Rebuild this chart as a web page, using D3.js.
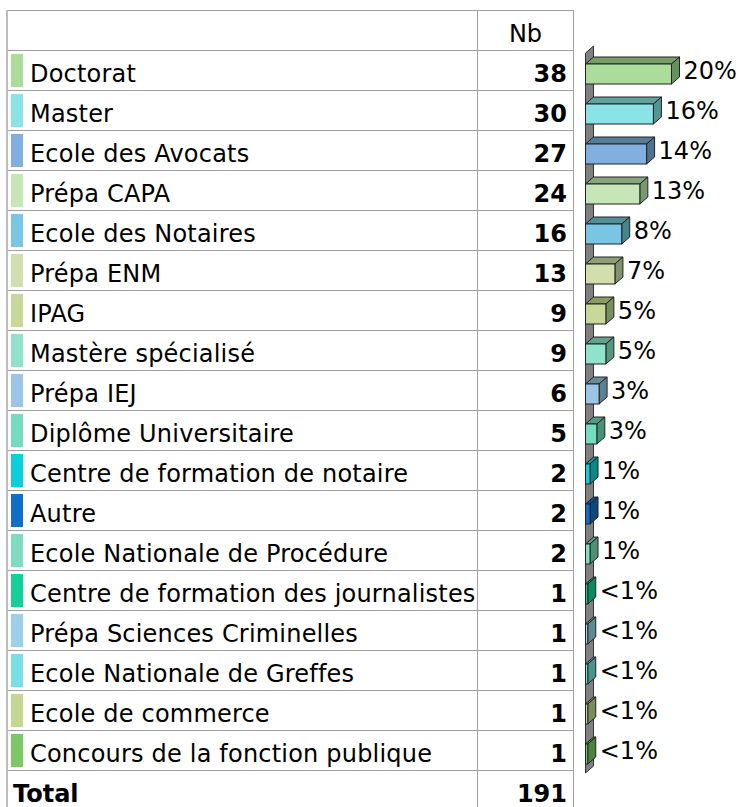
<!DOCTYPE html>
<html>
<head>
<meta charset="utf-8">
<script src="https://cdn.jsdelivr.net/npm/d3@7/dist/d3.min.js"></script>
<style>
  html, body { margin: 0; padding: 0; background: #fff; }
  svg { display: block; }
  text { font-family: "DejaVu Sans", Verdana, sans-serif; fill: #000; }
</style>
</head>
<body>
<svg id="chart" width="741" height="807"></svg>
<script>
const categories = [
  "Doctorat", "Master", "Ecole des Avocats", "Prépa CAPA", "Ecole des Notaires",
  "Prépa ENM", "IPAG", "Mastère spécialisé", "Prépa IEJ", "Diplôme Universitaire",
  "Centre de formation de notaire", "Autre", "Ecole Nationale de Procédure",
  "Centre de formation des journalistes", "Prépa Sciences Criminelles",
  "Ecole Nationale de Greffes", "Ecole de commerce", "Concours de la fonction publique"
];
const counts = [38, 30, 27, 24, 16, 13, 9, 9, 6, 5, 2, 2, 2, 1, 1, 1, 1, 1];
const percentLabels = ["20%", "16%", "14%", "13%", "8%", "7%", "5%", "5%", "3%", "3%",
  "1%", "1%", "1%", "<1%", "<1%", "<1%", "<1%", "<1%"];
const colors = [
  "#acdc9a", "#8ae3e6", "#80afe0", "#c6e6b8", "#78c6e4", "#d3deaf", "#c8d898",
  "#90e2cc", "#9cc4e6", "#74dcc0", "#0ccfdc", "#106ec8", "#80dcc0", "#14d098",
  "#9cd0e8", "#78e0e4", "#c4d694", "#7cc866"
];
const headerLabel = "Nb";
const totalLabel = "Total";
const totalValue = 191;

const svg = d3.select("#chart");

const y = d3.scaleBand().domain(categories).range([50, 770]).paddingInner(0).paddingOuter(0);
const x = d3.scaleLinear().domain([0, 38]).range([585.5, 671.5]);

const tableLeft = 7, col1 = 477, col2 = 573, tableTop = 10, tableBottom = 807;
const lineColor = "#a0a0a0";
const fs = 24;

// table grid
const grid = svg.append("g");
const hLines = [tableTop].concat(categories.map(c => y(c))).concat([y.range()[1]]);
grid.selectAll("line.h").data(hLines).join("line")
  .attr("x1", tableLeft).attr("x2", col2)
  .attr("y1", d => Math.round(d) + 0.5).attr("y2", d => Math.round(d) + 0.5)
  .attr("stroke", lineColor).attr("stroke-width", 1);
grid.append("line").attr("x1", tableLeft).attr("x2", tableLeft)
  .attr("y1", tableTop).attr("y2", tableBottom)
  .attr("stroke", "#bdbdbd").attr("stroke-width", 2);
grid.selectAll("line.v").data([col1, col2]).join("line")
  .attr("x1", d => d + 0.5).attr("x2", d => d + 0.5)
  .attr("y1", tableTop).attr("y2", tableBottom)
  .attr("stroke", lineColor).attr("stroke-width", 1);

// header
svg.append("text").attr("x", (col1 + col2) / 2 + 0.5).attr("y", 42)
  .attr("text-anchor", "middle").attr("font-size", fs).text(headerLabel);

// rows
const rows = svg.append("g").selectAll("g").data(categories).join("g")
  .attr("transform", d => `translate(0,${y(d)})`);
rows.append("rect").attr("x", 11).attr("y", 4).attr("width", 12).attr("height", 33)
  .attr("fill", (d, i) => colors[i]);
rows.append("text").attr("x", 30).attr("y", 32).attr("font-size", fs)
  .attr("letter-spacing", 0.2).text(d => d);
rows.append("text").attr("x", 567).attr("y", 32).attr("font-size", fs)
  .attr("font-weight", "bold").attr("text-anchor", "end").text((d, i) => counts[i]);

// total row
svg.append("text").attr("x", 13).attr("y", 802).attr("font-size", fs)
  .attr("font-weight", "bold").text(totalLabel);
svg.append("text").attr("x", 567).attr("y", 802).attr("font-size", fs)
  .attr("font-weight", "bold").attr("text-anchor", "end").text(totalValue);

// 3D bars
const dx = 8, dy = 7, barOff = 14, barH = 20;
const x0 = x(0);
const wallTop = y(categories[0]) + 3, wallBot = y.range()[1] + 3;
svg.append("path")
  .attr("d", `M${x0},${wallTop} L${x0 + dx},${wallTop - dy} L${x0 + dx},${wallBot - dy} L${x0},${wallBot} Z`)
  .attr("fill", "#808080").attr("stroke", "#333").attr("stroke-width", 1);

const bars = svg.append("g").selectAll("g").data(categories).join("g");
bars.each(function(d, i) {
  const g = d3.select(this);
  const yf = y(d) + barOff;
  const x1 = x(counts[i]);
  const c = d3.color(colors[i]);
  const top = d3.rgb(c.r * 0.68, c.g * 0.72, c.b * 0.68);
  const side = d3.rgb(c.r * 0.6, c.g * 0.66, c.b * 0.62);
  g.append("path")
    .attr("d", `M${x0},${yf} L${x0 + dx},${yf - dy} L${x1 + dx},${yf - dy} L${x1},${yf} Z`)
    .attr("fill", top).attr("stroke", "#222").attr("stroke-width", 1).attr("stroke-linejoin", "round");
  g.append("path")
    .attr("d", `M${x1},${yf} L${x1 + dx},${yf - dy} L${x1 + dx},${yf - dy + barH} L${x1},${yf + barH} Z`)
    .attr("fill", side).attr("stroke", "#222").attr("stroke-width", 1).attr("stroke-linejoin", "round");
  g.append("rect").attr("x", x0).attr("y", yf).attr("width", x1 - x0).attr("height", barH)
    .attr("fill", colors[i]).attr("stroke", "#222").attr("stroke-width", 1);
  g.append("text").attr("x", x1 + dx + 4).attr("y", yf + 15).attr("font-size", fs)
    .text(percentLabels[i]);
});
</script>
</body>
</html>
